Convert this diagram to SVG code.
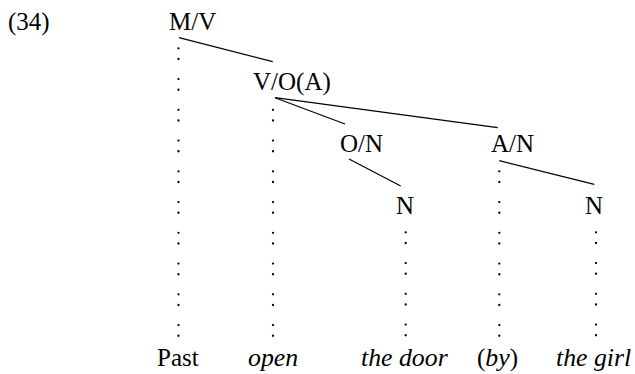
<svg xmlns="http://www.w3.org/2000/svg" width="635" height="374" viewBox="0 0 635 374">
  <style>
    text { font-family: "Liberation Serif", "Times New Roman", serif; font-size: 25px; fill: #000; }
    .it { font-style: italic; font-size: 25.8px; }
    .edge { stroke: #000; stroke-width: 1.2; fill: none; }
    .dots { stroke: #000; stroke-width: 2.3; stroke-linecap: round; stroke-dasharray: 0 10.7 0 20.05; fill: none; }
  </style>
  <rect width="635" height="374" fill="#fff"/>

  <text id="example-number" x="8" y="30">(34)</text>

  <!-- dotted projection lines down to the words -->
  <g id="projections">
    <line class="dots" x1="178.5" y1="48.3" x2="178.5" y2="336"/>
    <line class="dots" x1="273" y1="109.8" x2="273" y2="336"/>
    <line class="dots" x1="405.7" y1="232.3" x2="405.7" y2="336"/>
    <line class="dots" x1="499.3" y1="171.3" x2="499.3" y2="336"/>
    <line class="dots" x1="596" y1="232.3" x2="596" y2="336"/>
  </g>

  <!-- tree branches -->
  <g id="connectors">
    <line class="edge" x1="179" y1="37.7" x2="272.7" y2="61.7"/>
    <line class="edge" x1="275" y1="97.7" x2="345" y2="124"/>
    <line class="edge" x1="275" y1="97.7" x2="497.7" y2="127.7"/>
    <line class="edge" x1="349" y1="159" x2="400.7" y2="186"/>
    <line class="edge" x1="499.3" y1="160.7" x2="594.3" y2="184.3"/>
  </g>

  <g id="node-MV"><text x="169" y="30">M/V</text></g>
  <g id="node-VOA"><text x="253" y="90">V/O(A)</text></g>
  <g id="node-ON"><text x="340" y="152">O/N</text></g>
  <g id="node-AN"><text x="491" y="152">A/N</text></g>
  <g id="node-N1"><text x="396" y="214">N</text></g>
  <g id="node-N2"><text x="585" y="214">N</text></g>

  <!-- words -->
  <g id="word-past"><text x="157" y="366">Past</text></g>
  <g id="word-open"><text class="it" x="248" y="366">open</text></g>
  <g id="word-door"><text class="it" x="361" y="366">the door</text></g>
  <g id="word-by"><text x="477" y="366">(<tspan class="it">by</tspan>)</text></g>
  <g id="word-girl"><text class="it" x="556" y="366">the girl</text></g>
</svg>
